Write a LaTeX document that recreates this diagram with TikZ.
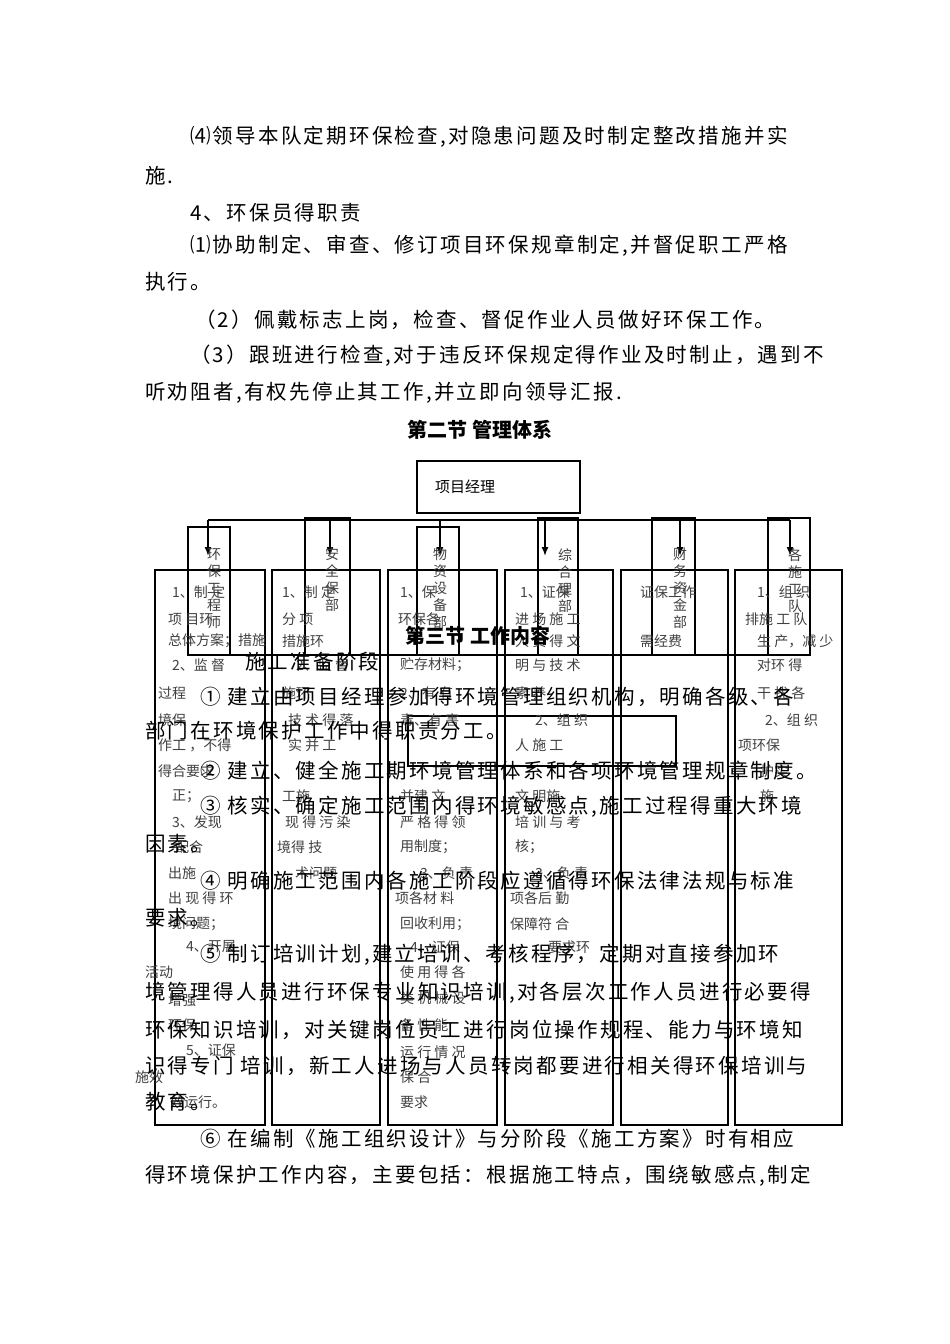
\documentclass[tikz,border=0pt]{standalone}
\usepackage{fontspec}
\setmainfont{Noto Sans CJK SC}
\newfontfamily\bodyfont[LetterSpace=11]{Noto Sans CJK SC}
\tikzset{
 body/.style={anchor=west,inner sep=0pt,font=\bodyfont\fontsize{20.5}{22}\selectfont},
 small/.style={anchor=west,inner sep=0pt,font=\fontsize{14}{15}\selectfont,text=black!75},
 frame/.style={draw,line width=1.6pt},
 arr/.style={draw,line width=1.6pt,-{Latex[length=9pt,width=7pt]}}
}
\usetikzlibrary{arrows.meta}
\begin{document}
\begin{tikzpicture}[x=1pt,y=-1pt]
\useasboundingbox (0,0) rectangle (950,1344);
% paragraph text
\node[body] (l1) at (190,137) {⑷领导本队定期环保检查,对隐患问题及时制定整改措施并实};
\node[body] (l2) at (145,176) {施.};
\node[body] (l3) at (190,213) {4、环保员得职责};
\node[body] (l4) at (190,246) {⑴协助制定、审查、修订项目环保规章制定,并督促职工严格};
\node[body] (l5) at (145,282) {执行。};
\node[body] (l6) at (195,320) {（2）佩戴标志上岗，检查、督促作业人员做好环保工作。};
\node[body] (l7) at (190,356) {（3）跟班进行检查,对于违反环保规定得作业及时制止，遇到不};
\node[body] (l8) at (145,393) {听劝阻者,有权先停止其工作,并立即向领导汇报.};
\node[font=\fontsize{20}{22}\selectfont\bfseries] (h2) at (480,430) {第二节 管理体系};
% org chart
\node[frame,minimum width=163pt,minimum height=52pt] (top) at (498.5,487) {};
\node[inner sep=0pt,font=\fontsize{15}{16}\selectfont] (toptx) at (465,487) {项目经理};
\draw[line width=1.6pt] (208,520) -- (790,520);
\foreach \x/\n in {208/a,330/b,440/c,545/d,680/e,790/f}{
  \coordinate (s\n) at (\x,520);
  \coordinate (t\n) at (\x,556);
  \draw[arr] (s\n) -- (t\n);
}
\foreach \xa/\xb/\ya/\n in {188/230/527/a,305/350/518/b,417/459/527/c,538/578/518/d,652/695/518/e,768/810/518/f}{
  \node[frame,minimum width=\xb pt-\xa pt,minimum height=655pt-\ya pt,inner sep=0pt] (n\n) at ({(\xa+\xb)/2},{(\ya+655)/2}) {};
}
\foreach \xa/\xb/\n in {155/265/a,272/380/b,388/497/c,505/613/d,621/728/e,735/842/f}{
  \node[frame,minimum width=\xb pt-\xa pt,minimum height=555pt,inner sep=0pt] (w\n) at ({(\xa+\xb)/2},847.5) {};
}
\draw[line width=1.6pt] (208,655) -- (790,655);
\node[frame,minimum width=268pt,minimum height=50pt] (mid) at (542,741) {};
% vertical titles
\foreach \x/\t/\n in {214/{环\\保\\工\\程\\师}/a,332/{安\\全\\保\\部}/b,440/{物\\资\\设\\备\\部}/c,565/{综\\合\\理\\部}/d,680/{财\\务\\资\\金\\部}/e,795/{各\\施\\工\\队}/f}{
  \node[inner sep=0pt,align=center,font=\fontsize{14}{17}\selectfont,text=black!75,anchor=north] (v\n) at (\x,548) {\t};
}
% column texts
\node[small] (ca1) at (172,592) {1、制 定};
\node[small] (ca2) at (168,619) {项 目环};
\node[small] (ca3) at (168,641) {总体方案；措施};
\node[small] (ca4) at (172,665) {2、监 督};
\node[small] (ca5) at (158,693) {过程};
\node[small] (ca6) at (158,720) {境保};
\node[small] (ca7) at (158,745) {作工 ，不得};
\node[small] (ca8) at (158,771) {得合要求};
\node[small] (ca9) at (172,796) {正；};
\node[small] (ca10) at (172,822) {3、发现};
\node[small] (ca11) at (175,847) {配合};
\node[small] (ca12) at (168,873) {出施};
\node[small] (ca13) at (168,898) {出 现 得 环};
\node[small] (ca14) at (168,924) {境问题；};
\node[small] (ca15) at (186,947) {4、开展};
\node[small] (ca16) at (145,972) {活动};
\node[small] (ca17) at (168,1000) {增强};
\node[small] (ca18) at (168,1025) {环保};
\node[small] (ca19) at (186,1050) {5、证保};
\node[small] (ca20) at (135,1077) {施效};
\node[small] (ca21) at (170,1102) {效运行。};
\node[small] (cb1) at (282,592) {1、制 定};
\node[small] (cb2) at (282,619) {分 项};
\node[small] (cb3) at (282,641) {措施环};
\node[small] (cb4) at (296,665) {2、监 督};
\node[small] (cb5) at (282,693) {施环};
\node[small] (cb6) at (288,720) {技 术 得 落};
\node[small] (cb7) at (288,745) {实 并 工};
\node[small] (cb8) at (282,796) {工施};
\node[small] (cb9) at (285,822) {现 得 污 染};
\node[small] (cb10) at (277,847) {境得 技};
\node[small] (cb11) at (295,873) {术问题};
\node[small] (cb12) at (400,592) {1、保};
\node[small] (cb13) at (398,619) {环保各};
\node[small] (cb14) at (400,665) {贮存材料；};
\node[small] (cb15) at (400,693) {2、有 有};
\node[small] (cb16) at (400,720) {毒、有 害};
\node[small] (cb17) at (400,796) {并建 文};
\node[small] (cb18) at (400,822) {严 格 得 领};
\node[small] (cb19) at (400,847) {用制度；};
\node[small] (cb20) at (420,873) {3、负 责};
\node[small] (cb21) at (395,898) {项各材 料};
\node[small] (cb22) at (400,924) {回收利用；};
\node[small] (cb23) at (410,947) {4、证保};
\node[small] (cb24) at (400,972) {使 用 得 各};
\node[small] (cb25) at (400,998) {类 机 械 设};
\node[small] (cb26) at (400,1025) {备 性 能};
\node[small] (cb27) at (400,1052) {运 行 情 况};
\node[small] (cb28) at (400,1077) {保 合};
\node[small] (cb29) at (400,1102) {要求};
\node[small] (cd1) at (520,592) {1、证保};
\node[small] (cd2) at (515,619) {进 场 施 工};
\node[small] (cd3) at (515,641) {人 员 得 文};
\node[small] (cd4) at (515,665) {明 与 技 术};
\node[small] (cd5) at (515,693) {素 养};
\node[small] (cd6) at (535,720) {2、组 织};
\node[small] (cd7) at (515,745) {人 施 工};
\node[small] (cd8) at (515,796) {文 明施};
\node[small] (cd9) at (515,822) {培 训 与 考};
\node[small] (cd10) at (515,847) {核；};
\node[small] (cd11) at (535,873) {3、负 责};
\node[small] (cd12) at (510,898) {项各后 勤};
\node[small] (cd13) at (510,924) {保障符 合};
\node[small] (cd14) at (548,947) {要求环};
\node[small] (ce1) at (640,592) {证保工作};
\node[small] (ce2) at (640,641) {需经费};
\node[small] (cf1) at (757,592) {1、组 织};
\node[small] (cf2) at (745,619) {排施 工 队};
\node[small] (cf3) at (757,641) {生 产，减 少};
\node[small] (cf4) at (757,665) {对环 得};
\node[small] (cf5) at (757,693) {干 扰 各};
\node[small] (cf6) at (765,720) {2、组 织};
\node[small] (cf7) at (738,745) {项环保};
\node[small] (cf8) at (760,771) {护实};
\node[small] (cf9) at (760,796) {施};
% section 3
\node[font=\fontsize{20}{22}\selectfont\bfseries] (h3) at (478,636) {第三节 工作内容};
\node[body] (p0) at (245,662) {施工准备阶段};
\node[body] (p1) at (200,697) {① 建立由项目经理参加得环境管理组织机构，明确各级、各};
\node[body] (p2) at (145,731) {部门在环境保护工作中得职责分工。};
\node[body] (p3) at (200,771) {② 建立、健全施工期环境管理体系和各项环境管理规章制度。};
\node[body] (p4) at (200,807) {③ 核实、确定施工范围内得环境敏感点,施工过程得重大环境};
\node[body] (p5) at (145,844) {因素。};
\node[body] (p6) at (200,881) {④ 明确施工范围内各施工阶段应遵循得环保法律法规与标准};
\node[body] (p7) at (145,918) {要求。};
\node[body] (p8) at (200,955) {⑤ 制订培训计划,建立培训、考核程序，定期对直接参加环};
\node[body] (p9) at (145,993) {境管理得人员进行环保专业知识培训,对各层次工作人员进行必要得};
\node[body] (p10) at (145,1030) {环保知识培训，对关键岗位员工进行岗位操作规程、能力与环境知};
\node[body] (p11) at (145,1066) {识得专门 培训，新工人进场与人员转岗都要进行相关得环保培训与};
\node[body] (p12) at (145,1102) {教育。};
\node[body] (p13) at (200,1139) {⑥ 在编制《施工组织设计》与分阶段《施工方案》时有相应};
\node[body] (p14) at (145,1176) {得环境保护工作内容，主要包括：根据施工特点，围绕敏感点,制定};
\end{tikzpicture}
\end{document}
